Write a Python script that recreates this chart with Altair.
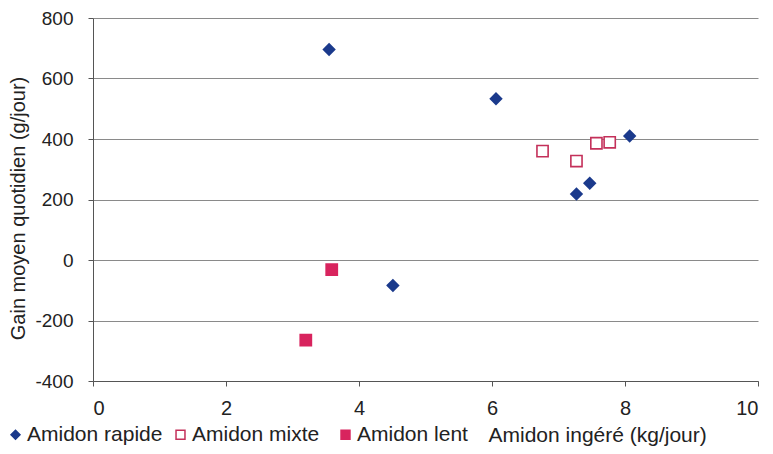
import altair as alt
import pandas as pd

types = ["Amidon rapide", "Amidon mixte", "Amidon lent"]

rapide_x = [3.55, 6.06, 8.07, 7.27, 7.47, 4.51]
rapide_y = [696, 533, 410, 218, 254, -84]
mixte_x = [6.76, 7.27, 7.57, 7.77]
mixte_y = [360, 327, 386, 389]
lent_x = [3.59, 3.2]
lent_y = [-32, -265]

rows = []
for xs, ys, t in [(rapide_x, rapide_y, types[0]), (mixte_x, mixte_y, types[1]), (lent_x, lent_y, types[2])]:
    for a, b in zip(xs, ys):
        rows.append({"x": a, "y": b, "Type": t})
df = pd.DataFrame(rows)

FONT = "Liberation Sans"
blue = "#1b3a8c"
mix = "#c4305a"
lent = "#d8245e"

legend = alt.Legend(
    title=None, orient="none", direction="horizontal",
    legendX=-88, legendY=406, labelFont=FONT, labelFontSize=21,
    labelColor="#222", symbolSize=80, symbolStrokeWidth=1.5,
    columnPadding=7, labelOffset=1, gridAlign="all", padding=0,
)

chart = alt.Chart(df).mark_point(opacity=1, strokeWidth=1.6, size=125).encode(
    x=alt.X("x:Q", scale=alt.Scale(domain=[0, 10], nice=False),
            axis=alt.Axis(values=[0, 2, 4, 6, 8, 10], grid=False,
                          title="Amidon ingéré (kg/jour)", titleAnchor="start",
                          titleX=395, titleY=54, titleAlign="left", titleBaseline="middle",
                          titleFont=FONT, titleFontSize=21, titleFontWeight="normal",
                          titleColor="#222", labelFont=FONT, labelFontSize=20,
                          labelColor="#222", labelPadding=12, tickSize=5,
                          tickColor="#555", domainColor="#555")),
    y=alt.Y("y:Q", scale=alt.Scale(domain=[-400, 800], nice=False),
            axis=alt.Axis(values=list(range(-400, 801, 200)), grid=True,
                          gridColor="#8a8a8a", gridWidth=1,
                          labelExpr="'' + datum.value",
                          title="Gain moyen quotidien (g/jour)", titleFont=FONT,
                          titleFontSize=20, titleFontWeight="normal", titleColor="#222",
                          titleX=-65, titleY=190, titleAngle=270, titleBaseline="bottom",
                          titleAlign="center",
                          labelFont=FONT, labelFontSize=19,
                          labelColor="#222", labelPadding=15, tickSize=5,
                          tickColor="#555", domainColor="#555")),
    shape=alt.Shape("Type:N", scale=alt.Scale(domain=types, range=["diamond", "square", "square"]), legend=legend),
    fill=alt.Fill("Type:N", scale=alt.Scale(domain=types, range=[blue, "white", lent]), legend=legend),
    stroke=alt.Stroke("Type:N", scale=alt.Scale(domain=types, range=[blue, mix, lent]), legend=legend),
).properties(
    width=665, height=363,
    background="white",
    autosize=alt.AutoSizeParams(type="none"),
    padding={"left": 85, "top": 10, "right": 7, "bottom": 65},
).configure_view(stroke=None)

chart.save("out.html", embed_options={"renderer": "svg", "actions": False})
